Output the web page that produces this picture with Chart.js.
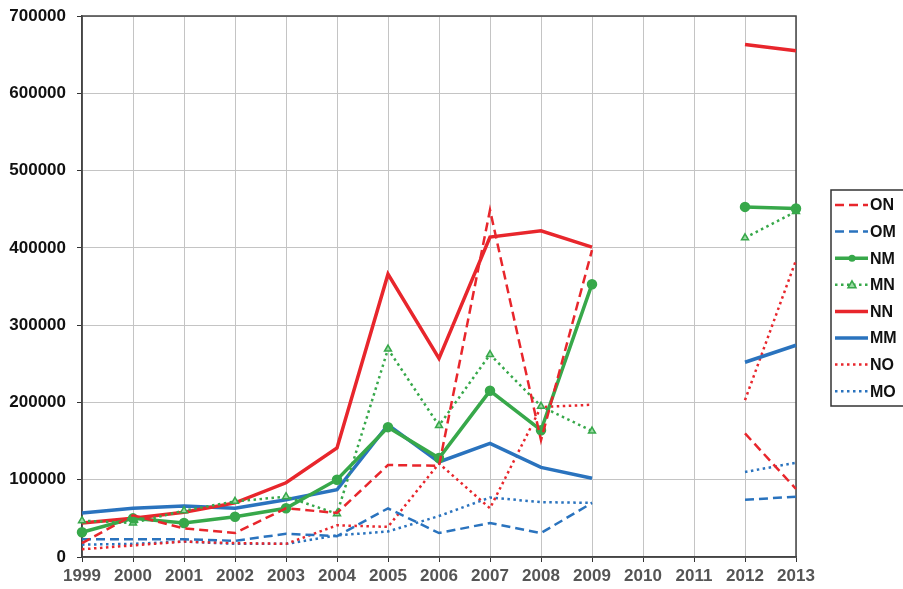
<!DOCTYPE html>
<html>
<head>
<meta charset="utf-8">
<script src="https://cdn.jsdelivr.net/npm/chart.js@4"></script>
<style>
  html, body { margin: 0; padding: 0; background: #fff; }
  #wrap { width: 903px; height: 589px; position: relative; }
</style>
</head>
<body>
<div id="wrap"><canvas id="chart"></canvas></div>
<script>
const years = ['1999', '2000', '2001', '2002', '2003', '2004', '2005', '2006', '2007', '2008', '2009', '2010', '2011', '2012', '2013'];

const ON = [18000, 54000, 37000, 31000, 63000, 57000, 119000, 118000, 449000, 151000, 397000, null, null, 160000, 88000];
const OM = [23000, 23000, 23000, 21000, 30000, 27000, 63000, 31000, 44000, 31000, 70000, null, null, 74000, 78000];
const NM = [32000, 50000, 44000, 52000, 63000, 100000, 168000, 128000, 215000, 164000, 353000, null, null, 453000, 451000];
const MN = [47000, 44000, 60000, 72000, 78000, 56000, 269000, 170000, 262000, 195000, 163000, null, null, 413000, 447000];
const NN = [44000, 50000, 58000, 70000, 96000, 141000, 366000, 257000, 414000, 422000, 401000, null, null, 663000, 655000];
const MM = [57000, 63000, 66000, 63000, 74000, 87000, 171000, 123000, 147000, 116000, 102000, null, null, 252000, 274000];
const NO = [10000, 15000, 20000, 18000, 17000, 41000, 39000, 121000, 63000, 194000, 197000, null, null, 203000, 384000];
const MO = [16000, 17000, 20000, 17000, 17000, 28000, 33000, 53000, 77000, 71000, 70000, null, null, 110000, 122000];

const yTicks = [0, 100000, 200000, 300000, 400000, 500000, 600000, 700000];

const RED = '#e8262c';
const BLUE = '#2a73be';
const GREEN = '#37a84a';
const DASH = [9, 5];
const DOT = [2.5, 3.5];

function line(label, data, color, dash, width, extra) {
  return Object.assign({
    label: label,
    data: data,
    borderColor: color,
    backgroundColor: color,
    borderDash: dash,
    borderWidth: width,
    pointRadius: 0,
    pointHoverRadius: 0,
    tension: 0,
    spanGaps: false
  }, extra || {});
}

const datasets = [
  line('ON', ON, RED, DASH, 2.5),
  line('OM', OM, BLUE, DASH, 2.5),
  line('NM', NM, GREEN, [], 3.5, { pointStyle: 'circle', pointRadius: 3.5, pointBackgroundColor: GREEN }),
  line('MN', MN, GREEN, DOT, 2.5, { pointStyle: 'triangle', pointRadius: 4, pointBackgroundColor: '#9ad9a3', pointBorderColor: GREEN, pointBorderWidth: 1.5 }),
  line('NN', NN, RED, [], 3.5),
  line('MM', MM, BLUE, [], 3.5),
  line('NO', NO, RED, DOT, 2.5),
  line('MO', MO, BLUE, DOT, 2.5)
];

// legend in a box to the right, and a frame round the plot
const boxLegend = {
  id: 'boxLegend',
  beforeDatasetsDraw(chart) {
    const a = chart.chartArea;
    const c = chart.ctx;
    c.save();
    c.strokeStyle = '#444';
    c.lineWidth = 1.5;
    c.strokeRect(a.left, a.top, a.right - a.left, a.bottom - a.top);
    c.restore();
  },
  afterDraw(chart) {
    const c = chart.ctx;
    const a = chart.chartArea;
    const x0 = a.right + 35, y0 = 190, rowH = 26.6;
    c.save();
    c.strokeStyle = '#333';
    c.lineWidth = 1.5;
    c.strokeRect(x0, y0, 120, 216);
    chart.data.datasets.forEach((ds, i) => {
      const y = y0 + 15 + i * rowH;
      c.beginPath();
      c.setLineDash(ds.borderDash);
      c.strokeStyle = ds.borderColor;
      c.lineWidth = ds.borderWidth;
      c.moveTo(x0 + 4, y);
      c.lineTo(x0 + 37, y);
      c.stroke();
      c.setLineDash([]);
      if (ds.pointStyle === 'circle') {
        c.beginPath();
        c.fillStyle = ds.borderColor;
        c.arc(x0 + 21, y, 3.5, 0, Math.PI * 2);
        c.fill();
      } else if (ds.pointStyle === 'triangle') {
        c.beginPath();
        c.fillStyle = ds.pointBackgroundColor;
        c.strokeStyle = ds.borderColor;
        c.lineWidth = 1.5;
        c.moveTo(x0 + 21, y - 4);
        c.lineTo(x0 + 25, y + 3);
        c.lineTo(x0 + 17, y + 3);
        c.closePath();
        c.fill();
        c.stroke();
      }
      c.fillStyle = '#111';
      c.font = 'bold 16px "Liberation Sans", Arial, sans-serif';
      c.textBaseline = 'middle';
      c.textAlign = 'left';
      c.fillText(ds.label, x0 + 39, y + 1);
    });
    c.restore();
  }
};

new Chart(document.getElementById('chart'), {
  type: 'line',
  data: { labels: years, datasets: datasets },
  options: {
    responsive: true,
    maintainAspectRatio: false,
    animation: false,
    layout: { padding: { left: 0, top: 16, right: 107, bottom: 0 } },
    plugins: {
      legend: { display: false },
      tooltip: { enabled: false }
    },
    scales: {
      x: {
        offset: false,
        afterFit(scale) { scale.height = 32; },
        grid: { color: '#c4c4c4', lineWidth: 1, tickColor: '#333', tickLength: 5 },
        border: { color: '#444', width: 1.5 },
        ticks: {
          color: '#555',
          padding: 4,
          maxRotation: 0,
          autoSkip: false,
          font: { family: '"Liberation Sans", Arial, sans-serif', size: 17, weight: 'bold' }
        }
      },
      y: {
        min: 0,
        max: 700000,
        afterFit(scale) {
          scale.width = 82;
          scale.paddingTop = 0;
          scale.paddingBottom = 0;
        },
        afterBuildTicks(scale) { scale.ticks = yTicks.map(v => ({ value: v })); },
        grid: { color: '#c4c4c4', lineWidth: 1, tickColor: '#333', tickLength: 5 },
        border: { color: '#444', width: 1.5 },
        ticks: {
          color: '#111',
          padding: 11,
          callback: v => String(v),
          font: { family: '"Liberation Sans", Arial, sans-serif', size: 17, weight: 'bold' }
        }
      }
    }
  },
  plugins: [boxLegend]
});
</script>
</body>
</html>
